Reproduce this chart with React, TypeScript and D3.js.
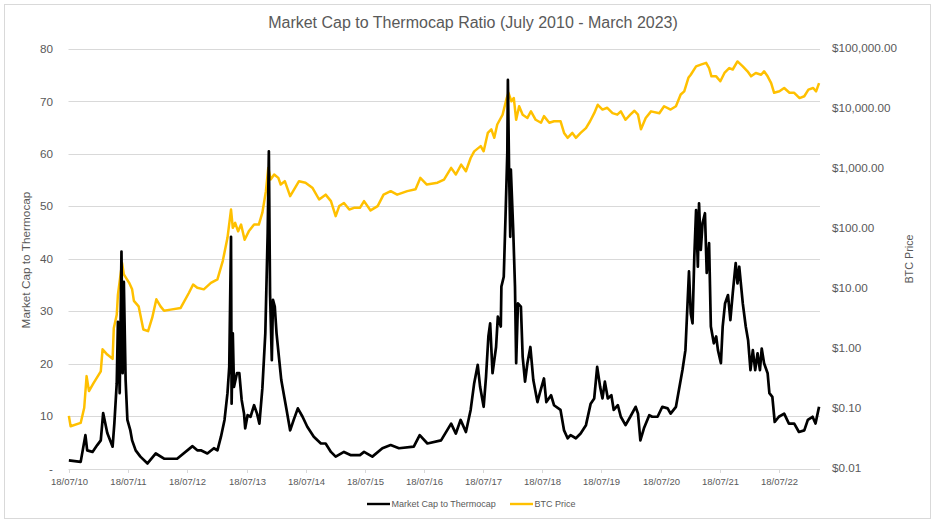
import { useRef, useEffect } from 'react';
import * as d3 from 'd3';

// [decimal year, value] pairs
const ratioSeries: [number, number][] = [
  [2010.54, 1.6], [2010.74, 1.3], [2010.82, 6.4], [2010.85, 3.5], [2010.94, 3.2],
  [2011.02, 4.5], [2011.08, 5.4], [2011.12, 10.6], [2011.19, 6.8], [2011.28, 4.2],
  [2011.31, 8.7], [2011.35, 16.3], [2011.37, 28], [2011.40, 14.4], [2011.43, 41.4],
  [2011.45, 18.2], [2011.47, 35.6], [2011.50, 16.9], [2011.53, 9.3], [2011.58, 7.3],
  [2011.61, 5.4], [2011.67, 3.5], [2011.75, 2.3], [2011.87, 1.0], [2012.01, 2.9],
  [2012.15, 1.9], [2012.37, 1.9], [2012.63, 4.3], [2012.71, 3.5], [2012.77, 3.5],
  [2012.88, 2.9], [2012.99, 3.9], [2013.05, 3.5], [2013.11, 6.1], [2013.17, 9.3],
  [2013.22, 14.4], [2013.25, 19.4], [2013.28, 44.2], [2013.29, 12.4], [2013.31, 25.8],
  [2013.33, 15.6], [2013.38, 18.2], [2013.42, 18.2], [2013.46, 13.1], [2013.50, 10.5],
  [2013.52, 7.7], [2013.56, 10.2], [2013.61, 9.9], [2013.67, 12.1], [2013.72, 10.5],
  [2013.76, 8.6], [2013.81, 15.3], [2013.86, 25.8], [2013.90, 44.9], [2013.92, 60.5],
  [2013.94, 33.4], [2013.97, 20.7], [2013.99, 32.2], [2014.02, 30.9], [2014.05, 25.8],
  [2014.09, 21.3], [2014.13, 16.9], [2014.18, 13.7], [2014.22, 11.2], [2014.28, 7.3],
  [2014.34, 9.3], [2014.41, 11.5], [2014.49, 9.9], [2014.57, 8.0], [2014.68, 6.1],
  [2014.80, 4.8], [2014.88, 4.8], [2014.97, 3.2], [2015.05, 2.3], [2015.19, 3.2],
  [2015.30, 2.6], [2015.46, 2.6], [2015.53, 3.2], [2015.67, 2.3], [2015.84, 3.9],
  [2015.98, 4.5], [2016.12, 3.9], [2016.37, 4.2], [2016.47, 6.4], [2016.60, 4.8],
  [2016.83, 5.4], [2017.00, 8.6], [2017.08, 6.7], [2017.16, 9.3], [2017.25, 7.0],
  [2017.33, 11.2], [2017.39, 16.3], [2017.45, 19.8], [2017.49, 15.6], [2017.55, 11.8],
  [2017.59, 17.5], [2017.63, 25.2], [2017.66, 27.7], [2017.70, 18.2], [2017.76, 23.2],
  [2017.79, 29.0], [2017.84, 27.1], [2017.85, 34.7], [2017.89, 36.6], [2017.92, 48.1],
  [2017.95, 60.2], [2017.96, 74.1], [2017.98, 57], [2018.00, 44.2], [2018.01, 57],
  [2018.05, 45.5], [2018.08, 34.7], [2018.10, 20.1], [2018.13, 31.5], [2018.18, 30.9],
  [2018.21, 21.3], [2018.25, 16.6], [2018.29, 20.1], [2018.34, 23.2], [2018.39, 16.9],
  [2018.46, 12.7], [2018.50, 14.4], [2018.57, 17.2], [2018.61, 12.7], [2018.69, 14.0],
  [2018.74, 12.1], [2018.85, 11.2], [2018.91, 7.3], [2018.97, 5.8], [2019.02, 6.4],
  [2019.11, 5.8], [2019.19, 6.7], [2019.28, 8.3], [2019.36, 12.4], [2019.42, 13.4],
  [2019.47, 19.4], [2019.52, 15.6], [2019.56, 13.4], [2019.60, 16.6], [2019.65, 13.4],
  [2019.71, 14.0], [2019.75, 11.2], [2019.82, 12.1], [2019.87, 9.9], [2019.95, 8.3],
  [2020.03, 9.9], [2020.12, 11.8], [2020.16, 10.5], [2020.20, 5.4], [2020.26, 7.7],
  [2020.35, 10.2], [2020.40, 9.9], [2020.49, 9.9], [2020.57, 11.8], [2020.66, 11.5],
  [2020.71, 10.5], [2020.80, 11.8], [2020.85, 15.0], [2020.91, 18.8], [2020.96, 22.6],
  [2021.02, 37.6], [2021.05, 29.6], [2021.08, 27.7], [2021.11, 40.4], [2021.14, 49.3],
  [2021.17, 38.5], [2021.19, 50.6], [2021.22, 41.7], [2021.25, 46.8], [2021.29, 48.7],
  [2021.32, 37.3], [2021.36, 43.0], [2021.39, 27.1], [2021.44, 23.9], [2021.48, 25.2],
  [2021.51, 22.6], [2021.56, 20.1], [2021.59, 27.1], [2021.63, 31.5], [2021.68, 33.1],
  [2021.72, 28.3], [2021.76, 33.4], [2021.81, 39.2], [2021.84, 35.3], [2021.87, 38.5],
  [2021.93, 31.5], [2021.98, 27.1], [2022.02, 24.5], [2022.06, 18.8], [2022.10, 22.6],
  [2022.14, 18.8], [2022.18, 22.0], [2022.22, 18.8], [2022.25, 22.9], [2022.29, 20.1],
  [2022.35, 18.2], [2022.38, 14.4], [2022.43, 13.7], [2022.47, 8.9], [2022.54, 9.9],
  [2022.63, 10.5], [2022.71, 8.6], [2022.80, 8.6], [2022.88, 7.0], [2022.97, 7.3],
  [2023.03, 9.3], [2023.11, 9.9], [2023.16, 8.6], [2023.22, 11.8],
];

const priceSeries: [number, number][] = [
  [2010.54, 0.076], [2010.57, 0.051], [2010.74, 0.058], [2010.80, 0.104], [2010.84, 0.35],
  [2010.88, 0.197], [2010.96, 0.27], [2011.08, 0.42], [2011.11, 0.98], [2011.19, 0.80],
  [2011.28, 0.68], [2011.30, 2.2], [2011.35, 3.7], [2011.37, 8.0], [2011.44, 27],
  [2011.47, 17.4], [2011.56, 12.6], [2011.61, 9.8], [2011.64, 6.3], [2011.72, 5.1],
  [2011.80, 2.1], [2011.88, 1.97], [2011.95, 3.3], [2012.02, 6.7], [2012.09, 5.1],
  [2012.15, 4.3], [2012.26, 4.5], [2012.43, 4.8], [2012.57, 8.6], [2012.64, 11.8],
  [2012.71, 10.4], [2012.82, 9.8], [2012.94, 12.6], [2013.05, 14.4], [2013.14, 29],
  [2013.22, 71], [2013.28, 210], [2013.31, 104], [2013.35, 126], [2013.40, 91],
  [2013.45, 118], [2013.51, 66], [2013.58, 91], [2013.67, 118], [2013.75, 118],
  [2013.81, 186], [2013.87, 426], [2013.91, 1040], [2013.95, 665], [2014.01, 806],
  [2014.08, 708], [2014.12, 549], [2014.19, 624], [2014.28, 351], [2014.36, 480],
  [2014.43, 624], [2014.54, 588], [2014.66, 480], [2014.77, 309], [2014.88, 372],
  [2014.97, 290], [2015.05, 163], [2015.11, 240], [2015.19, 270], [2015.28, 210],
  [2015.36, 224], [2015.46, 224], [2015.53, 290], [2015.64, 203], [2015.76, 240],
  [2015.86, 372], [2015.98, 426], [2016.09, 372], [2016.26, 426], [2016.40, 457],
  [2016.48, 708], [2016.59, 549], [2016.77, 588], [2016.88, 665], [2017.00, 1040],
  [2017.08, 806], [2017.17, 1180], [2017.25, 915], [2017.33, 1520], [2017.39, 1960],
  [2017.50, 2400], [2017.55, 1970], [2017.62, 3980], [2017.68, 4570], [2017.73, 3300],
  [2017.78, 5500], [2017.87, 8000], [2017.94, 15200], [2017.97, 18600], [2018.02, 13400],
  [2018.06, 15200], [2018.10, 6600], [2018.15, 11100], [2018.21, 8000], [2018.29, 7080],
  [2018.35, 9120], [2018.43, 6600], [2018.52, 5890], [2018.57, 7590], [2018.66, 5890],
  [2018.74, 6240], [2018.85, 6240], [2018.91, 3980], [2018.97, 3300], [2019.05, 3980],
  [2019.11, 3300], [2019.19, 3980], [2019.28, 4790], [2019.35, 6240], [2019.42, 8510],
  [2019.48, 11750], [2019.56, 9770], [2019.64, 10470], [2019.73, 8510], [2019.81, 8040],
  [2019.87, 9120], [2019.95, 6600], [2020.03, 8040], [2020.10, 9330], [2020.16, 8040],
  [2020.21, 4570], [2020.29, 7080], [2020.38, 9120], [2020.52, 8500], [2020.60, 11100],
  [2020.71, 9770], [2020.80, 11100], [2020.88, 17400], [2020.94, 19700], [2021.01, 33000],
  [2021.05, 37200], [2021.14, 51300], [2021.22, 55000], [2021.31, 58800], [2021.36, 48000],
  [2021.40, 35000], [2021.48, 35000], [2021.55, 29000], [2021.62, 39800], [2021.70, 48000],
  [2021.76, 45500], [2021.84, 62000], [2021.93, 51300], [2022.01, 42400], [2022.07, 35000],
  [2022.15, 39800], [2022.24, 37200], [2022.29, 42400], [2022.35, 35000], [2022.41, 27000],
  [2022.46, 18600], [2022.55, 19700], [2022.63, 22400], [2022.72, 18600], [2022.80, 18600],
  [2022.89, 15200], [2022.97, 16300], [2023.04, 21000], [2023.12, 22400], [2023.17, 19700],
  [2023.22, 27000],
];

const ratioTicks = [0, 10, 20, 30, 40, 50, 60, 70, 80];
const priceTicks = [0.01, 0.1, 1, 10, 100, 1000, 10000, 100000];
const tickYears = [2010, 2011, 2012, 2013, 2014, 2015, 2016, 2017, 2018, 2019, 2020, 2021, 2022];

const title = 'Market Cap to Thermocap Ratio (July 2010 - March 2023)';
const ratioLabel = 'Market Cap to Thermocap';
const priceLabel = 'BTC Price';

const W = 936;
const H = 524;
const FONT = '"Liberation Sans", Arial, sans-serif';
const TEXT = '#595959';
const GRID = '#D9D9D9';
const GOLD = '#FFC000';

// decimal year -> UTC date
const toDate = (t: number) => {
  const y = Math.floor(t);
  const start = Date.UTC(y, 0, 1);
  const end = Date.UTC(y + 1, 0, 1);
  return new Date(start + (t - y) * (end - start));
};

const App = () => {
  const svgRef = useRef<SVGSVGElement>(null);

  useEffect(() => {
    if (!svgRef.current) return;
    const svg = d3.select(svgRef.current);
    svg.selectAll('*').remove();

    const plot = { left: 68.5, right: 820, top: 49, bottom: 468.7 };

    const x = d3.scaleUtc()
      .domain([new Date(Date.UTC(2010, 6, 18)), new Date(Date.UTC(2022, 6, 18))])
      .range([69, 779]);
    const yL = d3.scaleLinear().domain([0, 80]).range([plot.bottom, plot.top]);
    const yR = d3.scaleLog().domain([0.01, 100000]).range([plot.bottom, plot.top]);

    // chart frame
    svg.append('rect')
      .attr('x', 4.5).attr('y', 4.5)
      .attr('width', 926).attr('height', 514)
      .attr('fill', '#fff')
      .attr('stroke', GRID);

    svg.append('text')
      .attr('x', 473).attr('y', 28)
      .attr('text-anchor', 'middle')
      .attr('font-family', FONT)
      .attr('font-size', 16)
      .attr('fill', TEXT)
      .text(title);

    // gridlines
    svg.append('g')
      .selectAll('line')
      .data(ratioTicks)
      .enter()
      .append('line')
      .attr('x1', plot.left).attr('x2', plot.right)
      .attr('y1', d => Math.round(yL(d)) + 0.5)
      .attr('y2', d => Math.round(yL(d)) + 0.5)
      .attr('stroke', GRID)
      .attr('stroke-width', 1);

    // left axis labels
    svg.append('g')
      .selectAll('text')
      .data(ratioTicks)
      .enter()
      .append('text')
      .attr('x', 53)
      .attr('y', d => yL(d))
      .attr('dy', '0.35em')
      .attr('text-anchor', 'end')
      .attr('font-family', FONT)
      .attr('font-size', 11.7)
      .attr('fill', TEXT)
      .text(d => (d === 0 ? '-' : String(d)));

    // right axis labels
    const fmtPrice = d3.format('$,.2f');
    svg.append('g')
      .selectAll('text')
      .data(priceTicks)
      .enter()
      .append('text')
      .attr('x', 832)
      .attr('y', d => yR(d) - 1)
      .attr('dy', '0.35em')
      .attr('font-family', FONT)
      .attr('font-size', 11.7)
      .attr('fill', TEXT)
      .text(d => fmtPrice(d));

    // x ticks + labels
    const fmtDate = d3.utcFormat('%d/%m/%y');
    const xt = svg.append('g');
    tickYears.forEach(yr => {
      const d = new Date(Date.UTC(yr, 6, 18));
      const px = Math.round(x(d)) + 0.5;
      xt.append('line')
        .attr('x1', px).attr('x2', px)
        .attr('y1', 469).attr('y2', 473)
        .attr('stroke', GRID);
      xt.append('text')
        .attr('x', px)
        .attr('y', 485)
        .attr('text-anchor', 'middle')
        .attr('font-family', FONT)
        .attr('font-size', 9.5)
        .attr('fill', TEXT)
        .text(fmtDate(d));
    });

    // axis titles
    svg.append('text')
      .attr('transform', 'translate(30, 260) rotate(-90)')
      .attr('text-anchor', 'middle')
      .attr('font-family', FONT)
      .attr('font-size', 11.8)
      .attr('fill', TEXT)
      .text(ratioLabel);

    svg.append('text')
      .attr('transform', 'translate(913, 259) rotate(-90)')
      .attr('text-anchor', 'middle')
      .attr('font-family', FONT)
      .attr('font-size', 10.8)
      .attr('fill', TEXT)
      .text(priceLabel);

    // series
    const priceLine = d3.line<[number, number]>()
      .x(d => x(toDate(d[0])))
      .y(d => yR(d[1]));
    const ratioLine = d3.line<[number, number]>()
      .x(d => x(toDate(d[0])))
      .y(d => yL(d[1]));

    svg.append('path')
      .datum(priceSeries)
      .attr('d', priceLine)
      .attr('fill', 'none')
      .attr('stroke', GOLD)
      .attr('stroke-width', 2.5)
      .attr('stroke-linejoin', 'round');

    svg.append('path')
      .datum(ratioSeries)
      .attr('d', ratioLine)
      .attr('fill', 'none')
      .attr('stroke', '#000')
      .attr('stroke-width', 2.7)
      .attr('stroke-linejoin', 'round');

    // legend
    const legend = [
      { label: ratioLabel, color: '#000', x0: 367 },
      { label: priceLabel, color: GOLD, x0: 510 },
    ];
    legend.forEach(l => {
      svg.append('line')
        .attr('x1', l.x0).attr('x2', l.x0 + 23)
        .attr('y1', 504).attr('y2', 504)
        .attr('stroke', l.color)
        .attr('stroke-width', 2.4);
      svg.append('text')
        .attr('x', l.x0 + 24.5)
        .attr('y', 504)
        .attr('dy', '0.35em')
        .attr('font-family', FONT)
        .attr('font-size', 9)
        .attr('fill', TEXT)
        .text(l.label);
    });
  }, []);

  return (
    <svg
      ref={svgRef}
      width={W}
      height={H}
      style={{ position: 'absolute', left: 0, top: 0, background: '#fff' }}
    />
  );
};

export default App;
